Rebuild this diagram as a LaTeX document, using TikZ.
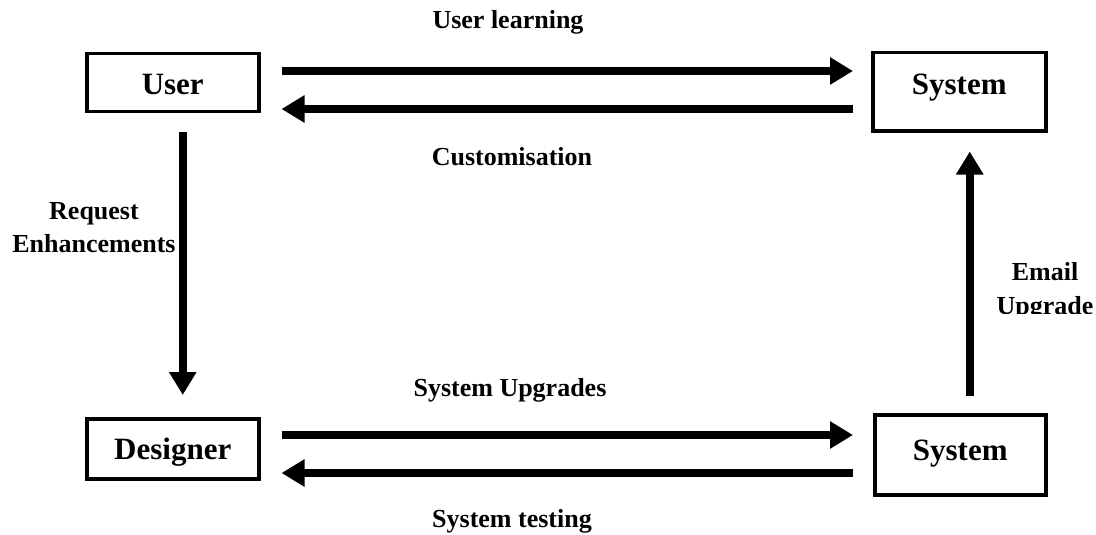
\documentclass[tikz,border=0pt]{standalone}
\usepackage{fontspec}
\setmainfont{Liberation Serif}
\usetikzlibrary{arrows.meta}
\begin{document}
\begin{tikzpicture}[x=1pt,y=-1pt,
  box/.style={draw,line width=3.5pt,inner sep=0pt,
    font=\fontsize{31}{31}\selectfont\bfseries},
  lbl/.style={inner sep=0pt,font=\fontsize{26}{33}\selectfont\bfseries},
  arr/.style={line width=8pt,-{Triangle[length=23pt,width=26pt]}}]
\useasboundingbox[fill=white] (0,0) rectangle (1096,535);

% boxes
\node[box,anchor=north west,minimum width=172pt,text height=41pt,text depth=17pt] (user) at (85,52) {User};
\node[box,anchor=north west,minimum width=173pt,text height=42pt,text depth=36pt] (sys1) at (871,51) {System};
\node[box,anchor=north west,minimum width=172pt,text height=41pt,text depth=19pt] (des) at (85,417) {Designer};
\node[box,anchor=north west,minimum width=171pt,text height=46pt,text depth=34pt] (sys2) at (873,413) {System};

% connectors
\draw[arr] ([shift={(21,19)}]user.north east) -- ([shift={(-18,20)}]sys1.north west);
\draw[arr] ([shift={(-18,58)}]sys1.north west) -- ([shift={(21,57)}]user.north east);
\draw[arr] ([shift={(10,18)}]user.south) -- ([shift={(10,-22)}]des.north);
\draw[arr] ([shift={(21,18)}]des.north east) -- ([shift={(-20,22)}]sys2.north west);
\draw[arr] ([shift={(-20,60)}]sys2.north west) -- ([shift={(21,56)}]des.north east);
\draw[arr] ([shift={(9.5,-17)}]sys2.north) -- ([shift={(10.5,19)}]sys1.south);

% labels (multi-line nodes sit on the baseline of their last line)
\node[lbl,anchor=base] (learn) at (508,29) {User learning};
\node[lbl,anchor=base] (custom) at (512,165) {Customisation};
\node[lbl,anchor=base] (upgr) at (510,396) {System Upgrades};
\node[lbl,anchor=base] (test) at (512,527) {System testing};
\node[lbl,align=center,anchor=base] (req) at (94,252) {Request\\Enhancements};
\begin{scope}
  \clip (980,230) rectangle (1096,313);
  \node[lbl,align=center,anchor=base,font=\fontsize{26}{34}\selectfont\bfseries] (mail) at (1045,314) {Email\\Upgrade};
\end{scope}
\end{tikzpicture}
\end{document}
